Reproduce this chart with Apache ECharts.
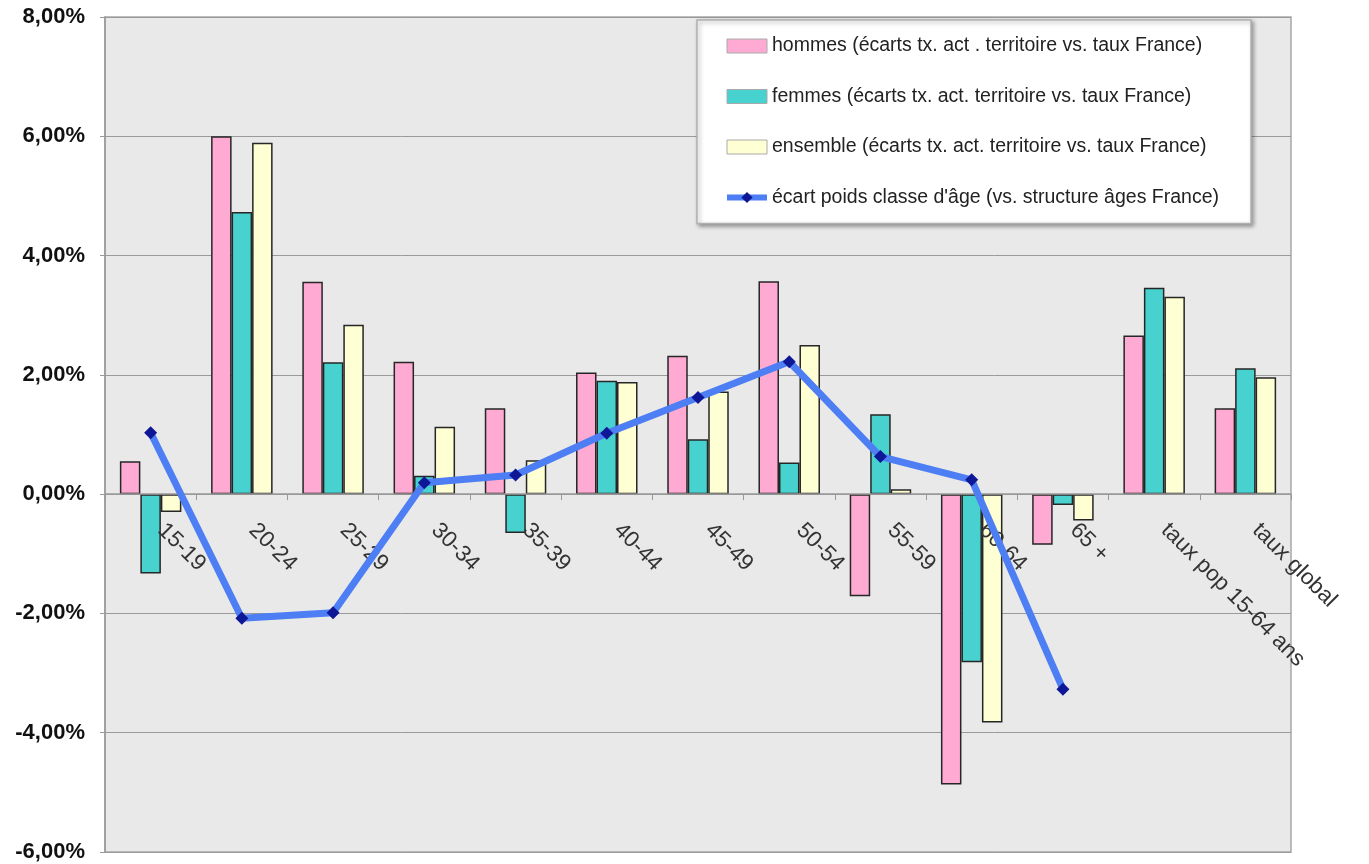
<!DOCTYPE html>
<html>
<head>
<meta charset="utf-8">
<script src="https://cdn.jsdelivr.net/npm/echarts@6/dist/echarts.min.js"></script>
<style>
html,body{margin:0;padding:0;background:#fff;}
#chart{width:1369px;height:864px;}
</style>
</head>
<body>
<div id="chart"></div>
<script>
var categories = ['15-19','20-24','25-29','30-34','35-39','40-44','45-49','50-54','55-59','60-64','65 +','taux pop 15-64 ans','taux global'];
var hommes   = [0.55, 6.00, 3.56, 2.22, 1.44, 2.04, 2.32, 3.57, -1.71, -4.87, -0.85, 2.66, 1.44];
var femmes   = [-1.33, 4.73, 2.21, 0.31, -0.65, 1.90, 0.92, 0.53, 1.34, -2.82, -0.18, 3.46, 2.11];
var ensemble = [-0.30, 5.89, 2.84, 1.13, 0.57, 1.88, 1.72, 2.50, 0.08, -3.83, -0.44, 3.31, 1.96];
var ecartPoids = [1.03, -2.08, -1.99, 0.19, 0.32, 1.02, 1.62, 2.22, 0.63, 0.24, -3.27, null, null];
var yTicks = {min:-6, max:8, interval:2};
var seriesNames = [
  'hommes (écarts tx. act . territoire vs. taux France)',
  'femmes (écarts tx. act. territoire vs. taux France)',
  'ensemble (écarts tx. act. territoire vs. taux France)',
  "écart poids classe d'âge (vs. structure âges France)"
];

var W = 1369, H = 864;
var gridTop = 17, gridBottom = 12;
var gridH = H - gridTop - gridBottom;
// place category axis on the zero line
var zeroOffset = -gridH * (0 - yTicks.min) / (yTicks.max - yTicks.min);

var chart = echarts.init(document.getElementById('chart'), null, {renderer:'canvas'});
var FONT = '"Liberation Sans", Arial, Helvetica, sans-serif';
var barBorder = {borderColor:'#262626', borderWidth:1.5};
function barSeries(name, data, color){
  return {
    name:name, type:'bar', data:data, barWidth:20.5, barGap:'0%',
    itemStyle:Object.assign({color:color}, barBorder),
    emphasis:{disabled:true}, z:1
  };
}
var option = {
  animation:false,
  backgroundColor:'#ffffff',
  textStyle:{fontFamily:FONT},
  grid:{left:105, right:78, top:gridTop, bottom:gridBottom, show:true, z:0, backgroundColor:'#e9e9e9', borderColor:'#a8a8a8', borderWidth:1.5, containLabel:false, outerBoundsMode:'none'},
  legend:{
    orient:'vertical', left:697, top:20,
    padding:[16,32,16,27],
    itemWidth:40, itemHeight:14, itemGap:30.5,
    backgroundColor:'#ffffff', borderColor:'#b0b0b0', borderWidth:1.5,
    shadowColor:'rgba(0,0,0,0.35)', shadowBlur:4, shadowOffsetX:2, shadowOffsetY:2,
    textStyle:{fontFamily:FONT, fontSize:19.5, color:'#222', lineHeight:20},
    data:[
      {name:seriesNames[0], icon:'rect', itemStyle:{borderColor:'#aaaaaa', borderWidth:1}},
      {name:seriesNames[1], icon:'rect', itemStyle:{borderColor:'#aaaaaa', borderWidth:1}},
      {name:seriesNames[2], icon:'rect', itemStyle:{borderColor:'#aaaaaa', borderWidth:1}},
      {name:seriesNames[3], lineStyle:{width:6, color:'#4d7ef4'}}
    ]
  },
  xAxis:{
    type:'category', data:categories, boundaryGap:true, position:'bottom',
    offset:zeroOffset, z:4,
    axisLine:{onZero:false, lineStyle:{color:'#999999', width:1.5}},
    axisTick:{show:true, length:6, lineStyle:{color:'#999999'}},
    axisLabel:{rotate:-45, interval:0, margin:22, padding:[0,0,0,15], fontSize:22.5, color:'#333333', fontFamily:FONT},
    splitLine:{show:false}
  },
  yAxis:{
    type:'value', min:yTicks.min, max:yTicks.max, interval:yTicks.interval, z:0,
    axisLine:{show:true, onZero:false, lineStyle:{color:'#999999', width:1.5}},
    axisTick:{show:true, length:5, lineStyle:{color:'#999999'}},
    axisLabel:{margin:20, fontSize:22, fontWeight:'bold', color:'#111111', fontFamily:FONT,
      formatter:function(v){ return v.toFixed(2).replace('.', ',') + '%'; }},
    splitLine:{show:true, lineStyle:{color:'#9a9a9a', width:1}}
  },
  series:[
    barSeries(seriesNames[0], hommes, '#ffaad2'),
    barSeries(seriesNames[1], femmes, '#48d2cf'),
    barSeries(seriesNames[2], ensemble, '#ffffd4'),
    {
      name:seriesNames[3], type:'line', data:ecartPoids, z:6,
      symbol:'diamond', symbolSize:13, showSymbol:true,
      lineStyle:{color:'#4d7ef4', width:7},
      itemStyle:{color:'#0e1796'},
      connectNulls:false, emphasis:{disabled:true}
    }
  ]
};
chart.setOption(option);
</script>
</body>
</html>
